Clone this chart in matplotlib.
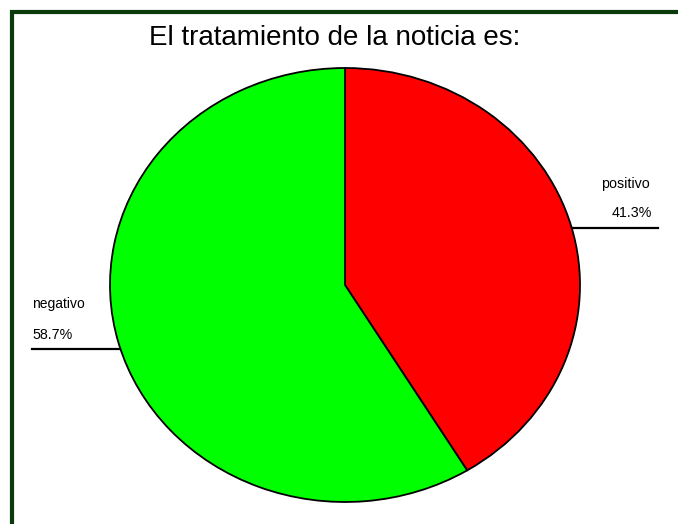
import matplotlib.pyplot as plt
from matplotlib.patches import Rectangle
from matplotlib.lines import Line2D

categorias = ["positivo", "negativo"]
porcentajes = [41.3, 58.7]
colores = ["#ff0000", "#00ff00"]

W, H = 678, 524
fig = plt.figure(figsize=(W / 100, H / 100), dpi=100)
plt.rcParams["font.family"] = ["Liberation Sans", "DejaVu Sans"]

# marco verde oscuro
fig.patches.append(Rectangle((11.5 / W, -0.1), 1.2, (H - 12) / H + 0.1,
                             transform=fig.transFigure, fill=False,
                             edgecolor="#0a3a0a", linewidth=3))

# pie eliptico (aspect auto)
ax = fig.add_axes([110 / W, (H - 502) / H, 470 / W, 434 / H])
ax.pie(porcentajes, colors=colores, startangle=90, counterclock=False,
       wedgeprops=dict(edgecolor="black", linewidth=1.3))
ax.set_aspect("auto")
ax.set_xlim(-1, 1)
ax.set_ylim(-1, 1)
ax.axis("off")

fig.text(335 / W, 1 - 38 / H, "El tratamiento de la noticia es:",
         ha="center", va="center", fontsize=20)

# etiquetas
fig.text(650 / W, 1 - 184 / H, categorias[0], ha="right", va="center", fontsize=10.3)
fig.text(652 / W, 1 - 213 / H, f"{porcentajes[0]}%", ha="right", va="center", fontsize=10.3)
fig.lines.append(Line2D([572 / W, 658 / W], [1 - 228 / H] * 2,
                        transform=fig.transFigure, color="black", linewidth=1.6))

fig.text(32 / W, 1 - 304 / H, categorias[1], ha="left", va="center", fontsize=10)
fig.text(32 / W, 1 - 335 / H, f"{porcentajes[1]}%", ha="left", va="center", fontsize=10.3)
fig.lines.append(Line2D([32 / W, 120 / W], [1 - 349 / H] * 2,
                        transform=fig.transFigure, color="black", linewidth=1.6))

fig.savefig("out.png", dpi=100)
